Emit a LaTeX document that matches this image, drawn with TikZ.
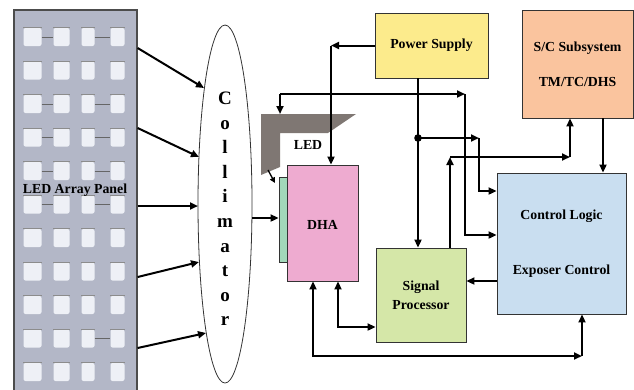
\documentclass[tikz,border=0pt]{standalone}
\usepackage{fontspec}
\setmainfont{Liberation Serif}
\usetikzlibrary{arrows.meta,shapes.geometric}
\definecolor{panelc}{HTML}{B3B7C7}
\definecolor{sqc}{HTML}{EEF0F6}
\definecolor{psc}{HTML}{FCEB8C}
\definecolor{scc}{HTML}{FAC49E}
\definecolor{clc}{HTML}{C9DEF0}
\definecolor{spc}{HTML}{D5E7A8}
\definecolor{dhac}{HTML}{EEABD0}
\definecolor{stripc}{HTML}{A2D8BA}
\definecolor{ledc}{HTML}{7F7773}
\begin{document}
\begin{tikzpicture}[x=1pt,y=-1pt,
  box/.style={draw=black!80, line width=0.9pt, inner sep=0pt, align=center,
    font=\fontsize{13.8}{16}\selectfont\bfseries},
  sq/.style={fill=sqc, rounded corners=2pt, inner sep=0pt, minimum height=18pt},
  conn/.style={line width=2pt, -{Triangle[length=8pt,width=7pt]}},
  dconn/.style={line width=2pt, {Triangle[length=8pt,width=7pt]}-{Triangle[length=8pt,width=7pt]}},
  lbl/.style={font=\fontsize{13.8}{16}\selectfont\bfseries, inner sep=0pt}]
\useasboundingbox (0,0) rectangle (634,389);
\clip (0,0) rectangle (634,389);
% LED array panel
\node[draw=black!70, line width=1.2pt, fill=panelc, minimum width=123pt, minimum height=384pt, inner sep=0pt] (panel) at (75.5,202) {};
\foreach \r in {0,...,10}{
  \foreach \cx/\w [count=\c] in {32.5/18,61.5/16,88/13,117.5/14}{
    \node[sq, minimum width=\w pt] (sq-\r-\c) at (\cx,37+33.5*\r) {};
    \draw[black!45, line width=0.8pt] (sq-\r-\c.north west) -- (sq-\r-\c.north east);
  }
}
\foreach \r in {0,2,3,4,5}{
  \draw[black!60, line width=0.8pt] (sq-\r-1.east) -- (sq-\r-2.west);
  \draw[black!60, line width=0.8pt] (sq-\r-3.east) -- (sq-\r-4.west);
}
\draw[black!60, line width=0.8pt] (sq-9-3.east) -- (sq-9-4.west);
\node[lbl] (paneltxt) at (75,190) {LED Array Panel};
% collimator
\node[draw=black!80, line width=0.8pt, ellipse, minimum width=54pt, minimum height=358pt, inner sep=0pt] (coll) at (225,204) {};
\node[font=\fontsize{19}{24.6}\selectfont\bfseries, align=center, inner sep=0pt] (colltxt) at (225,209) {C\\o\\l\\l\\i\\m\\a\\t\\o\\r};
% boxes
\node[box, fill=psc, minimum width=113pt, minimum height=65pt] (PS) at (431.5,45.5) {Power Supply};
\node[box, fill=scc, minimum width=111pt, minimum height=108pt] (SC) at (577.5,64) {S/C Subsystem\\[19pt]TM/TC/DHS};
\node[box, fill=clc, minimum width=129pt, minimum height=141pt] (CL) at (561.5,243.5) {Control Logic\\[39pt]Exposer Control};
\node[box, fill=spc, minimum width=90pt, minimum height=94pt, font=\fontsize{13.8}{19}\selectfont\bfseries] (SP) at (421,295) {Signal\\Processor};
\node[box, fill=stripc, minimum width=8pt, minimum height=85pt] (strip) at (283,219.5) {};
\node[box, fill=dhac, minimum width=71pt, minimum height=116pt] (DHA) at (322.5,223) {};
\node[lbl] (dhatxt) at (322.5,225) {DHA};
% LED shape
\fill[ledc] (261,114) -- (356,114) -- (328,133) -- (280,133) -- (280,167) -- (261,175) -- cycle;
\coordinate (ledtop) at (280,114);
\node[lbl] (ledtxt) at (308,145) {LED};
% panel -> collimator
\draw[conn] (panel.east |- 0,48) -- (204,88);
\draw[conn] (panel.east |- 0,128) -- (199,157);
\draw[conn] (panel.east |- 0,206) -- (198,206);
\draw[conn] (panel.east |- 0,277) -- (199,262);
\draw[conn] (panel.east |- 0,348) -- (206,333);
% collimator -> strip
\draw[conn] (252,218) -- (strip.west |- 0,218);
% LED -> strip
\draw[line width=1.3pt, -{Triangle[length=5.5pt,width=5.5pt]}] (268,170) -- (275,183);
% Power supply -> DHA
\coordinate (k1) at (331,45.5);
\draw[conn] (PS.west) -- (k1);
\draw[conn] (k1) -- (DHA.north -| k1);
% Control -> LED
\coordinate (k2) at (280,94);
\coordinate (k3) at (465,94);
\draw[conn] (k2) -- (ledtop);
\draw[conn] (k2) -- (k3);
\draw[conn] (k3) -- (465,235) -- (CL.west |- 0,235);
% Power supply -> Signal processor
\coordinate (dot) at (418,138);
\draw[conn] (PS.south -| dot) -- (SP.north -| dot);
\fill (dot) circle (3.8pt);
\coordinate (k4) at (479,138);
\draw[conn] (dot) -- (k4);
\draw[conn] (k4) -- (479,191) -- (CL.west |- 0,191);
% Signal processor -> S/C
\coordinate (k5) at (450,157);
\coordinate (k6) at (570,157);
\draw[conn] (SP.north -| k5) -- (k5);
\draw[conn] (k5) -- (k6);
\draw[conn] (k6) -- (SC.south -| k6);
% S/C -> Control
\draw[conn] (SC.south -| 603,0) -- (CL.north -| 603,0);
% Control -> Signal processor
\draw[conn] (CL.west |- 0,281) -- (SP.east |- 0,281);
% DHA <-> Signal processor
\draw[dconn] (DHA.south -| 338,0) -- (338,327) -- (SP.west |- 0,327);
% DHA <-> Control
\coordinate (k7) at (582,356);
\draw[dconn] (DHA.south -| 313,0) -- (313,356) -- (k7);
\draw[conn] (k7) -- (CL.south -| k7);
\end{tikzpicture}
\end{document}
